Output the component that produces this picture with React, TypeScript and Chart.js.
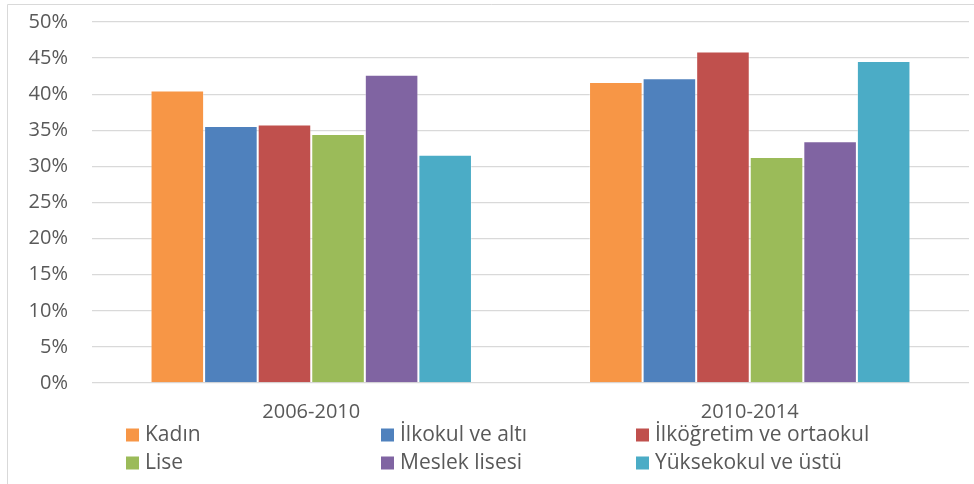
import React, { useEffect, useRef } from "react";
import { Chart, registerables } from "chart.js";

Chart.register(...registerables);

const categories = ["2006-2010", "2010-2014"];
const seriesNames = [
  "Kadın",
  "İlkokul ve altı",
  "İlköğretim ve ortaokul",
  "Lise",
  "Meslek lisesi",
  "Yüksekokul ve üstü",
];
const kadin = [40.5, 41.7];
const ilkokul = [35.6, 42.2];
const ilkogretim = [35.8, 45.9];
const lise = [34.5, 31.3];
const meslek = [42.7, 33.5];
const yuksekokul = [31.6, 44.6];
const seriesValues = [kadin, ilkokul, ilkogretim, lise, meslek, yuksekokul];
const colors = ["#F79646", "#4F81BD", "#C0504D", "#9BBB59", "#8064A2", "#4BACC6"];
const yTicks = [0, 5, 10, 15, 20, 25, 30, 35, 40, 45, 50];

const FONT = "'Open Sans', 'Liberation Sans', sans-serif";
const TEXT = "#595959";

const framePlugin = {
  id: "frame",
  beforeDraw(chart: any) {
    const ctx = chart.ctx;
    ctx.save();
    ctx.strokeStyle = "#d9d9d9";
    ctx.lineWidth = 1;
    ctx.beginPath();
    ctx.moveTo(7.5, chart.height + 5);
    ctx.lineTo(7.5, 4.5);
    ctx.lineTo(chart.width + 5, 4.5);
    ctx.stroke();
    ctx.restore();
  },
};

const legendPlugin = {
  id: "gridLegend",
  afterDraw(chart: any) {
    const ctx = chart.ctx;
    const area = chart.chartArea;
    const startX = area.left + 34;
    const colW = 255;
    const row0 = area.bottom + 52;
    const rowH = 28;
    ctx.save();
    ctx.font = `21px ${FONT}`;
    ctx.textBaseline = "middle";
    ctx.textAlign = "left";
    chart.data.datasets.forEach((ds: any, i: number) => {
      const col = i % 3;
      const row = Math.floor(i / 3);
      const x = startX + col * colW;
      const y = row0 + row * rowH;
      ctx.fillStyle = ds.backgroundColor;
      ctx.fillRect(x, y - 6.5, 13, 13);
      ctx.fillStyle = TEXT;
      ctx.fillText(ds.label, x + 19, y);
    });
    ctx.restore();
  },
};

export default function App() {
  const ref = useRef<HTMLCanvasElement>(null);

  useEffect(() => {
    document.body.style.margin = "0";
    const canvas = ref.current;
    if (!canvas) return;
    const chart = new Chart(canvas, {
      type: "bar",
      data: {
        labels: categories,
        datasets: seriesNames.map((name, i) => ({
          label: name,
          data: seriesValues[i],
          backgroundColor: colors[i],
          borderColor: "rgba(255,255,255,0.35)",
          borderWidth: 1,
          categoryPercentage: 0.733,
          barPercentage: 1,
        })),
      },
      options: {
        animation: false,
        responsive: false,
        maintainAspectRatio: false,
        devicePixelRatio: 1,
        layout: { padding: { top: 22, right: 5, bottom: 0, left: 0 } },
        plugins: {
          legend: { display: false },
          tooltip: { enabled: false },
          title: { display: false },
        },
        scales: {
          x: {
            grid: { display: false, drawTicks: false },
            border: { display: false },
            ticks: {
              color: TEXT,
              font: { family: FONT, size: 20 },
              padding: 17,
              maxRotation: 0,
            },
            afterFit(scale: any) {
              scale.height = 101;
            },
          },
          y: {
            min: 0,
            max: 50,
            afterBuildTicks(scale: any) {
              scale.ticks = yTicks.map((v) => ({ value: v }));
            },
            grid: { color: "#d9d9d9", lineWidth: 1.3, drawTicks: false },
            border: { display: false },
            ticks: {
              color: TEXT,
              font: { family: FONT, size: 20 },
              padding: 24,
              callback: (v: any) => `${v}%`,
            },
            afterFit(scale: any) {
              scale.width = 92;
              scale.paddingTop = 12;
              scale.paddingBottom = 12;
            },
          },
        },
      },
      plugins: [framePlugin, legendPlugin],
    });
    return () => chart.destroy();
  }, []);

  return (
    <div style={{ position: "absolute", left: 0, top: 0, width: 974, height: 484, background: "#fff" }}>
      <canvas ref={ref} width={974} height={484} style={{ width: 974, height: 484, display: "block" }} />
    </div>
  );
}
